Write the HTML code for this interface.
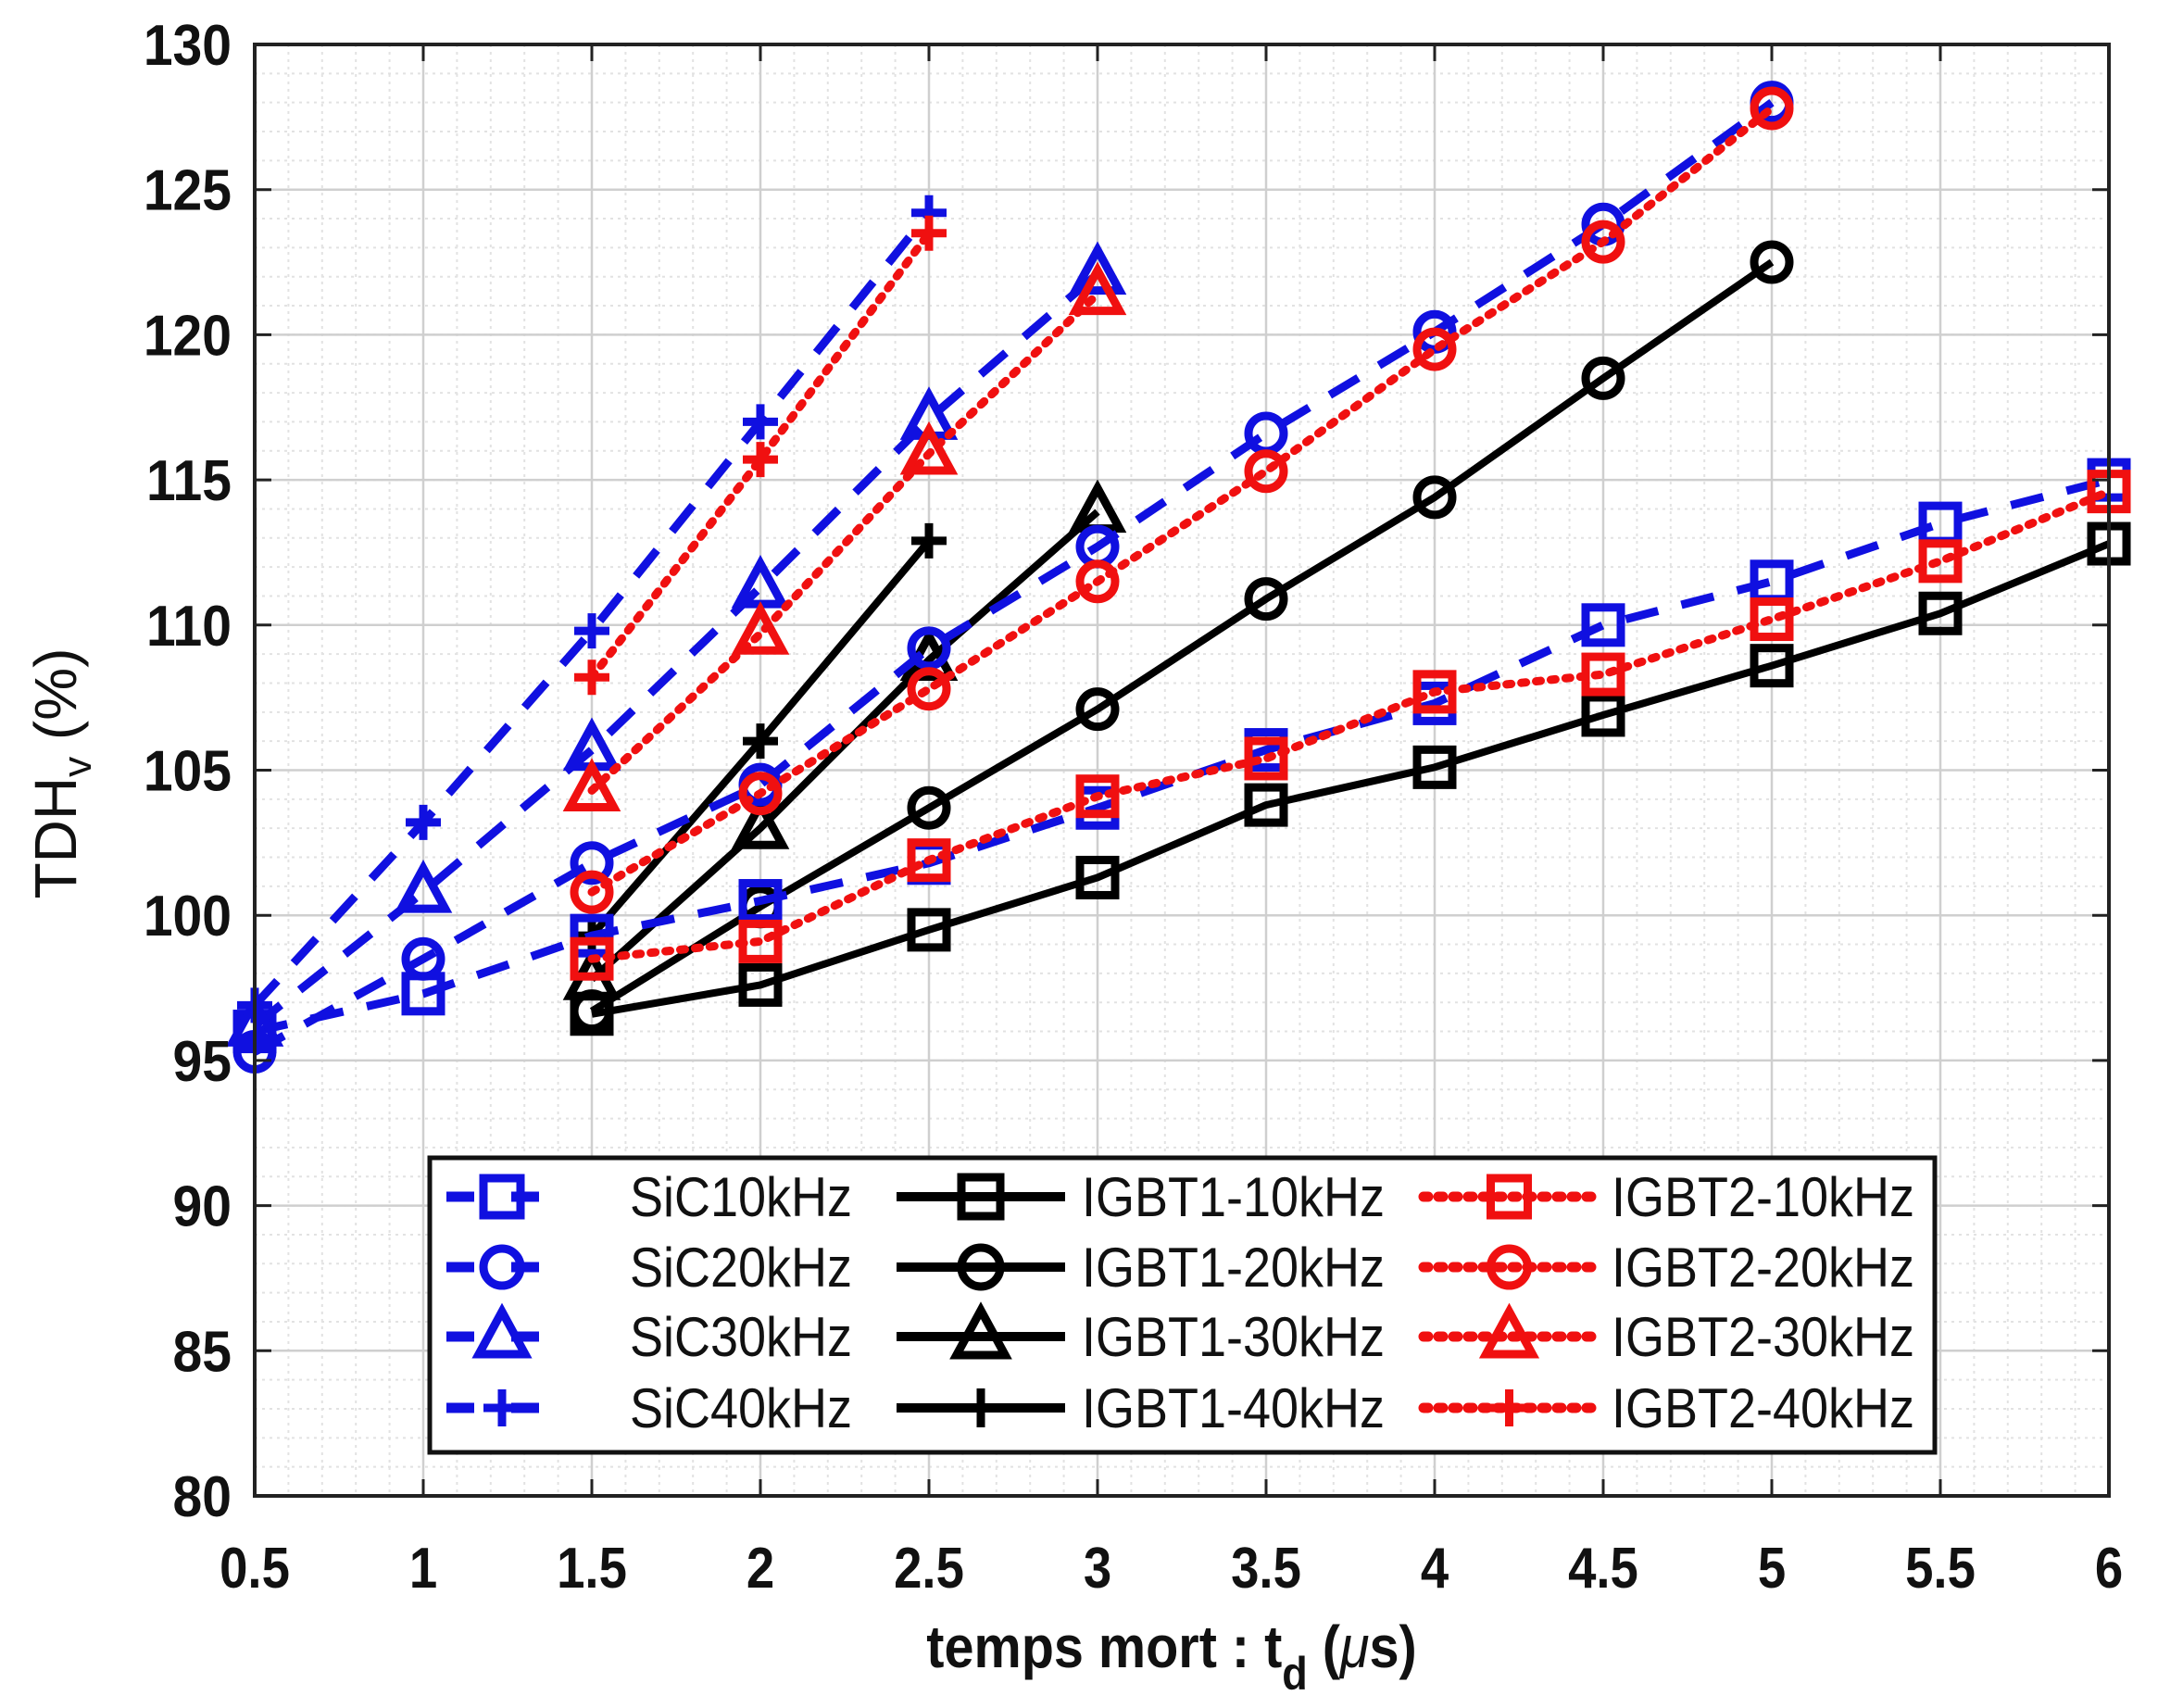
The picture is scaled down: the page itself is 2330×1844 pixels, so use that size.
<!DOCTYPE html>
<html><head><meta charset="utf-8">
<style>
html,body{margin:0;padding:0;background:#fff;}
svg{display:block;font-family:"Liberation Sans",sans-serif;}
</style></head>
<body>
<svg id="chart" width="2330" height="1844" viewBox="0 0 2330 1844" xmlns="http://www.w3.org/2000/svg">
<rect x="0" y="0" width="2330" height="1844" fill="#fff"/>
<g id="grid"></g>
<g id="series"></g>
<g id="axes"></g>
<g id="legend"></g>
</svg>
<script>
const xTicks=[0.5,1,1.5,2,2.5,3,3.5,4,4.5,5,5.5,6];
const xTickLabels=["0.5","1","1.5","2","2.5","3","3.5","4","4.5","5","5.5","6"];
const yTicks=[80,85,90,95,100,105,110,115,120,125,130];
const yTickLabels=["80","85","90","95","100","105","110","115","120","125","130"];
const seriesNames=["SiC10kHz","SiC20kHz","SiC30kHz","SiC40kHz","IGBT1-10kHz","IGBT1-20kHz","IGBT1-30kHz","IGBT1-40kHz","IGBT2-10kHz","IGBT2-20kHz","IGBT2-30kHz","IGBT2-40kHz"];
const sic10X=[0.5,1,1.5,2,2.5,3,3.5,4,4.5,5,5.5,6];
const sic10Y=[96.0,97.3,99.3,100.5,101.8,103.7,105.7,107.3,110.0,111.5,113.5,115.0];
const sic20X=[0.5,1,1.5,2,2.5,3,3.5,4,4.5,5];
const sic20Y=[95.3,98.5,101.8,104.5,109.2,112.7,116.6,120.1,123.8,128.0];
const sic30X=[0.5,1,1.5,2,2.5,3];
const sic30Y=[96.2,100.8,105.7,111.3,117.1,122.1];
const sic40X=[0.5,1,1.5,2,2.5];
const sic40Y=[96.9,103.2,109.8,117.0,124.2];
const igbt1_10X=[1.5,2,2.5,3,3.5,4,4.5,5,5.5,6];
const igbt1_10Y=[96.6,97.6,99.5,101.3,103.8,105.1,106.9,108.6,110.4,112.8];
const igbt1_20X=[1.5,2,2.5,3,3.5,4,4.5,5];
const igbt1_20Y=[96.7,100.3,103.7,107.1,110.9,114.4,118.5,122.5];
const igbt1_30X=[1.5,2,2.5,3];
const igbt1_30Y=[97.8,103.0,108.8,113.9];
const igbt1_40X=[1.5,2,2.5];
const igbt1_40Y=[99.3,106.0,112.9];
const igbt2_10X=[1.5,2,2.5,3,3.5,4,4.5,5,5.5,6];
const igbt2_10Y=[98.5,99.1,101.9,104.1,105.4,107.7,108.3,110.2,112.2,114.6];
const igbt2_20X=[1.5,2,2.5,3,3.5,4,4.5,5];
const igbt2_20Y=[100.8,104.2,107.8,111.5,115.3,119.5,123.2,127.8];
const igbt2_30X=[1.5,2,2.5,3];
const igbt2_30Y=[104.3,109.7,115.9,121.4];
const igbt2_40X=[1.5,2,2.5];
const igbt2_40Y=[108.2,115.7,123.5];

const NS="http://www.w3.org/2000/svg";
const L=275,R=2277,T=48,B=1615,X0=0.5,X1=6,Y0=80,Y1=130;
const sx=v=>L+(v-X0)/(X1-X0)*(R-L);
const sy=v=>B-(v-Y0)/(Y1-Y0)*(B-T);
function mk(tag,attrs,parent){const e=document.createElementNS(NS,tag);for(const k in attrs)e.setAttribute(k,attrs[k]);parent.appendChild(e);return e;}
const grid=document.getElementById('grid'),axes=document.getElementById('axes'),ser=document.getElementById('series'),leg=document.getElementById('legend');

for(let v=X0;v<=X1+1e-9;v+=0.1){const g=mk('line',{x1:sx(v),x2:sx(v),y1:T,y2:B,stroke:'#e2e2e2','stroke-width':2,'stroke-dasharray':'3 5'},grid);

}
for(let v=Y0;v<=Y1+1e-9;v+=1){const g=mk('line',{x1:L,x2:R,y1:sy(v),y2:sy(v),stroke:'#e2e2e2','stroke-width':2,'stroke-dasharray':'3 5'},grid);

}
xTicks.forEach((v,i)=>{const g=mk('line',{x1:sx(v),x2:sx(v),y1:T,y2:B,stroke:'#cfcfcf','stroke-width':2.5},grid);


const t=mk('line',{x1:sx(v),x2:sx(v),y1:B,y2:B-18,stroke:'#222','stroke-width':3},axes);


const t2=mk('line',{x1:sx(v),x2:sx(v),y1:T,y2:T+18,stroke:'#222','stroke-width':3},axes);


const lb=mk('text',{x:sx(v),y:1714,'text-anchor':'middle','font-size':62,'font-weight':'bold',fill:'#111',transform:`translate(${sx(v)},0) scale(0.88,1) translate(${-sx(v)},0)`},axes);
lb.textContent=xTickLabels[i];

});
yTicks.forEach((v,i)=>{const g=mk('line',{x1:L,x2:R,y1:sy(v),y2:sy(v),stroke:'#cfcfcf','stroke-width':2.5},grid);


const t=mk('line',{x1:L,x2:L+18,y1:sy(v),y2:sy(v),stroke:'#222','stroke-width':3},axes);


const t2=mk('line',{x1:R,x2:R-18,y1:sy(v),y2:sy(v),stroke:'#222','stroke-width':3},axes);


const lb=mk('text',{x:250,y:sy(v)+22,'text-anchor':'end','font-size':62,'font-weight':'bold',fill:'#111',transform:`translate(250,0) scale(0.92,1) translate(-250,0)`},axes);
lb.textContent=yTickLabels[i];

});
const box=mk('rect',{x:L,y:T,width:R-L,height:B-T,fill:'none',stroke:'#222','stroke-width':4},axes);


const xt=mk('text',{x:1265,y:1800,'text-anchor':'middle','font-size':64,'font-weight':'bold',fill:'#111',transform:'translate(1265,0) scale(0.9,1) translate(-1265,0)'},axes);
xt.innerHTML='temps mort : t<tspan dy="24" font-size="50">d</tspan><tspan dy="-24"> (</tspan><tspan font-style="italic" font-weight="normal">μ</tspan>s)';


const yt=mk('text',{x:0,y:0,'text-anchor':'middle','font-size':64,fill:'#111',transform:'translate(82,835) rotate(-90)'},axes);
yt.innerHTML='TDH<tspan dy="16" font-size="44">v</tspan><tspan dy="-16"> (%)</tspan>';



const styles={
 sic:{c:'#1010e0',dash:'36 26',w:9},
 i1:{c:'#000',dash:'',w:8},
 i2:{c:'#f01010',dash:'5 11',w:9,cap:'round'}
};
function marker(g,type,x,y,c,s){
 s=s||19;
 let e;
 if(type==='sq') e=mk('rect',{x:x-s,y:y-s,width:2*s,height:2*s,fill:'none',stroke:c,'stroke-width':9},g);
 else if(type==='ci') e=mk('circle',{cx:x,cy:y,r:s,fill:'none',stroke:c,'stroke-width':9},g);
 else if(type==='tr') e=mk('polygon',{points:`${x},${y-s*1.35} ${x+s*1.25},${y+s*0.95} ${x-s*1.25},${y+s*0.95}`,fill:'none',stroke:c,'stroke-width':9},g);
 else e=mk('path',{d:`M${x-s} ${y}H${x+s}M${x} ${y-s}V${y+s}`,stroke:c,'stroke-width':9,fill:'none'},g);
 return e;
}
const defs=[
 [sic10X,sic10Y,'sic','sq',0],[sic20X,sic20Y,'sic','ci',1],[sic30X,sic30Y,'sic','tr',2],[sic40X,sic40Y,'sic','pl',3],
 [igbt1_10X,igbt1_10Y,'i1','sq',4],[igbt1_20X,igbt1_20Y,'i1','ci',5],[igbt1_30X,igbt1_30Y,'i1','tr',6],[igbt1_40X,igbt1_40Y,'i1','pl',7],
 [igbt2_10X,igbt2_10Y,'i2','sq',8],[igbt2_20X,igbt2_20Y,'i2','ci',9],[igbt2_30X,igbt2_30Y,'i2','tr',10],[igbt2_40X,igbt2_40Y,'i2','pl',11]
];
const order=[4,5,6,7,0,1,2,3,8,9,10,11];
order.forEach(k=>{const [xs,ys,st,mt,idx]=defs[k];const s=styles[st];
 const g=mk('g',{},ser);
 
 
 const pts=xs.map((x,i)=>sx(x)+','+sy(ys[i])).join(' ');
 const pl=mk('polyline',{points:pts,fill:'none',stroke:s.c,'stroke-width':s.w,'stroke-dasharray':s.dash,'stroke-linecap':s.cap||'butt','stroke-linejoin':'round'},g);
 
 
 xs.forEach((x,i)=>{const m=marker(g,mt,sx(x),sy(ys[i]),s.c);
  
  });
});

const lb=mk('rect',{x:464,y:1250,width:1625,height:318,fill:'#fff',stroke:'#111','stroke-width':5},leg);


const rows=[1292,1368,1443,1520];
const cols=[{k:'sic',x1:482,x2:612,tx:680,ids:[0,1,2,3]},{k:'i1',x1:968,x2:1150,tx:1168,ids:[4,5,6,7]},{k:'i2',x1:1537,x2:1722,tx:1740,ids:[8,9,10,11]}];
const mts=['sq','ci','tr','pl'];
cols.forEach(c=>{const s=styles[c.k];c.ids.forEach((id,r)=>{
 const g=mk('g',{},leg);
 
 
 const y=rows[r];
 mk('line',{x1:c.x1,x2:c.x2,y1:y,y2:y,stroke:s.c,'stroke-width':s.w+2,'stroke-dasharray':c.k==='sic'?'30 40':s.dash,'stroke-linecap':s.cap||'butt'},g);
 marker(g,mts[r],(c.x1+c.x2)/2+(c.k==='sic'?-5:0),y,s.c,c.k==='i1'?21:20);
 const t=mk('text',{x:c.tx,y:y+21,'font-size':60,fill:'#111',transform:`translate(${c.tx},0) scale(0.9,1) translate(${-c.tx},0)`},g);
 t.textContent=seriesNames[id];
});});
</script>
</body></html>
